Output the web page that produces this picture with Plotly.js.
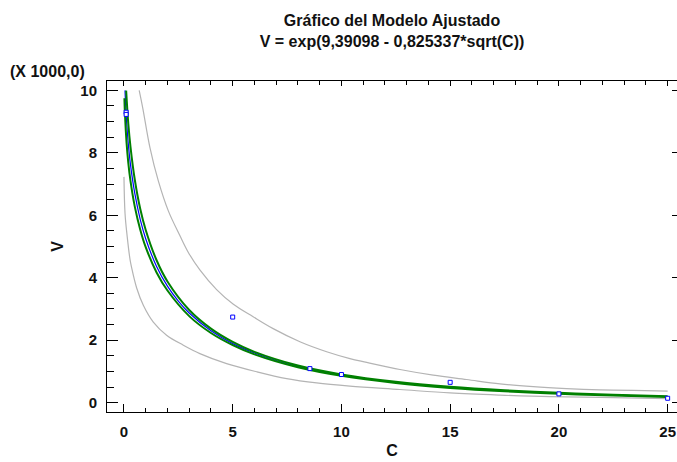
<!DOCTYPE html>
<html>
<head>
<meta charset="utf-8">
<script src="https://cdn.plot.ly/plotly-3.0.1.min.js"></script>
<style>
  html, body { margin: 0; padding: 0; background: #ffffff; }
  #chart { width: 677px; height: 462px; }
</style>
</head>
<body>
<div id="chart"></div>
<script>
// Fitted model V = exp(a - b*sqrt(C)); V is shown in thousands
const coefA = '9,39098';
const coefB = '0,825337';

// Observed data
const obsC = [0.1, 0.1, 5, 8.55, 10, 15, 20, 25];
const obsV = [9.30, 9.23, 2.74, 1.09, 0.90, 0.65, 0.28, 0.14];

// Fitted curve
const fitC = [0.048, 0.075, 0.1, 0.15, 0.2, 0.3, 0.5, 0.75, 1, 1.5, 2, 2.5, 3, 4, 5, 6, 7, 8, 10, 12.5, 15, 17.5, 20, 22.5, 25];
const fitV = [10.0, 9.56, 9.23, 8.71, 8.28, 7.62, 6.69, 5.86, 5.25, 4.36, 3.73, 3.25, 2.87, 2.30, 1.89, 1.59, 1.35, 1.16, 0.881, 0.648, 0.490, 0.379, 0.299, 0.239, 0.193];

// Confidence limits for the mean
const confUpC = [0.1, 0.2, 0.3, 0.5, 0.75, 1, 1.5, 2, 3, 4, 5, 6, 8, 10, 12.5, 15, 17.5, 20, 22.5, 25];
const confUpV = [9.99, 8.93, 8.19, 7.13, 6.20, 5.53, 4.56, 3.88, 2.966, 2.369, 1.943, 1.626, 1.188, 0.904, 0.668, 0.508, 0.396, 0.315, 0.254, 0.207];
const confLoC = [0.02, 0.05, 0.12, 0.2, 0.3, 0.5, 0.75, 1, 1.5, 2, 3, 4, 5, 6, 8, 10, 12.5, 15, 17.5, 20, 22.5, 25];
const confLoV = [9.75, 9.17, 8.32, 7.68, 7.10, 6.27, 5.54, 4.98, 4.17, 3.59, 2.771, 2.231, 1.844, 1.547, 1.133, 0.858, 0.629, 0.472, 0.362, 0.284, 0.225, 0.180];

// Prediction limits
const predUpC = [0.70, 0.86, 1.20, 1.58, 2.04, 2.57, 2.96, 3.49, 4.26, 5.03, 5.94, 6.86, 8.09, 9.32, 10.39, 11.16, 12.69, 14.22, 15.76, 17.29, 18.82, 20.35, 21.89, 23.42, 25.0];
const predUpV = [10.0, 9.45, 8.15, 7.10, 6.14, 5.35, 4.81, 4.25, 3.62, 3.15, 2.75, 2.37, 1.95, 1.63, 1.41, 1.29, 1.06, 0.88, 0.74, 0.60, 0.51, 0.45, 0.41, 0.39, 0.37];
const predLoC = [0.0, 0.05, 0.15, 0.28, 0.35, 0.58, 0.89, 1.35, 1.96, 2.73, 3.49, 4.72, 6.10, 7.48, 8.86, 10.39, 12.69, 14.99, 17.29, 19.59, 21.89, 25.0];
const predLoV = [7.23, 6.05, 5.31, 4.58, 4.33, 3.68, 3.12, 2.58, 2.16, 1.84, 1.57, 1.25, 0.99, 0.77, 0.63, 0.53, 0.42, 0.31, 0.24, 0.19, 0.17, 0.13];

// Axis ticks
const xTicks = [0, 5, 10, 15, 20, 25];
const xTickText = ['0', '5', '10', '15', '20', '25'];
const yTicks = [0, 2, 4, 6, 8, 10];
const yTickText = ['0', '2', '4', '6', '8', '10'];

const FONT = 'Liberation Sans, Arial, Helvetica, sans-serif';
const INK = '#111111';
const GRAY = '#b4b4b4';
const GREEN = '#008000';
const BLUE = '#0000ff';
const X_RANGE = [-0.78, 25.43];
const Y_RANGE = [-0.30, 10.30];

const lineTrace = (x, y, color, width) => ({
  x: x, y: y, type: 'scatter', mode: 'lines',
  line: { color: color, width: width, shape: 'spline', smoothing: 1 },
  hoverinfo: 'skip', showlegend: false
});

const traces = [
  lineTrace(predUpC, predUpV, GRAY, 1.2),
  lineTrace(predLoC, predLoV, GRAY, 1.2),
  lineTrace(fitC, fitV, BLUE, 1.2),
  lineTrace(confUpC, confUpV, GREEN, 2),
  lineTrace(confLoC, confLoV, GREEN, 2),
  {
    x: obsC, y: obsV, type: 'scatter', mode: 'markers',
    marker: { symbol: 'square', size: 4, color: '#ffffff', line: { color: BLUE, width: 1 } },
    showlegend: false
  },
  // carries the top and right frame axes
  { x: [], y: [], xaxis: 'x2', yaxis: 'y2', type: 'scatter', mode: 'markers', showlegend: false, hoverinfo: 'skip' }
];

const tickFont = { family: FONT, size: 15, color: INK, weight: 'bold' };

const layout = {
  width: 677,
  height: 462,
  margin: { l: 107, r: 0, t: 81, b: 50, pad: 0 },
  paper_bgcolor: '#ffffff',
  plot_bgcolor: '#ffffff',
  showlegend: false,
  title: {
    text: 'Gráfico del Modelo Ajustado<br>V = exp(' + coefA + ' - ' + coefB + '*sqrt(C))',
    font: { family: FONT, size: 16, color: INK, weight: 'bold' },
    x: 0.5, xref: 'paper', xanchor: 'center',
    y: 0.944, yref: 'container', yanchor: 'top'
  },
  xaxis: {
    range: X_RANGE,
    tickmode: 'array', tickvals: xTicks, ticktext: xTickText,
    ticks: 'inside', ticklen: 8, tickwidth: 1, tickcolor: '#000',
    minor: { tickmode: 'linear', tick0: 0, dtick: 1, ticks: 'inside', ticklen: 4, tickwidth: 1, tickcolor: '#000', showgrid: false },
    showline: true, linecolor: '#000', linewidth: 1,
    showgrid: false, zeroline: false,
    tickfont: tickFont,
    ticklabelstandoff: 6,
    title: { text: 'C', font: { family: FONT, size: 16, color: INK, weight: 'bold' }, standoff: 5 },
    fixedrange: true
  },
  yaxis: {
    range: Y_RANGE,
    tickmode: 'array', tickvals: yTicks, ticktext: yTickText,
    ticks: 'inside', ticklen: 11, tickwidth: 1, tickcolor: '#000',
    minor: { tickmode: 'linear', tick0: 0, dtick: 0.5, ticks: 'inside', ticklen: 7, tickwidth: 1, tickcolor: '#000', showgrid: false },
    showline: true, linecolor: '#000', linewidth: 1,
    showgrid: false, zeroline: false,
    tickfont: tickFont,
    ticklabelstandoff: 6,
    title: { text: 'V', font: { family: FONT, size: 16, color: INK, weight: 'bold' }, standoff: 12 },
    fixedrange: true
  },
  xaxis2: {
    overlaying: 'x', side: 'top', anchor: 'y', range: X_RANGE,
    tickmode: 'array', tickvals: xTicks,
    ticks: 'inside', ticklen: 5, tickwidth: 1, tickcolor: '#000',
    minor: { tickmode: 'linear', tick0: 0, dtick: 1, ticks: 'inside', ticklen: 4, tickwidth: 1, tickcolor: '#000', showgrid: false },
    showticklabels: false, showline: true, linecolor: '#000', linewidth: 1,
    showgrid: false, zeroline: false, fixedrange: true
  },
  yaxis2: {
    overlaying: 'y', side: 'right', anchor: 'x', range: Y_RANGE,
    tickmode: 'array', tickvals: yTicks,
    ticks: 'inside', ticklen: 5, tickwidth: 1, tickcolor: '#000',
    showticklabels: false, showline: true, linecolor: '#000', linewidth: 1,
    showgrid: false, zeroline: false, fixedrange: true
  },
  annotations: [{
    text: '(X 1000,0)',
    xref: 'paper', yref: 'paper', x: -0.174, y: 1.028,
    xanchor: 'left', yanchor: 'middle', showarrow: false,
    font: { family: FONT, size: 16, color: INK, weight: 'bold' }
  }]
};

Plotly.newPlot('chart', traces, layout, { displayModeBar: false, staticPlot: true });
</script>
</body>
</html>
